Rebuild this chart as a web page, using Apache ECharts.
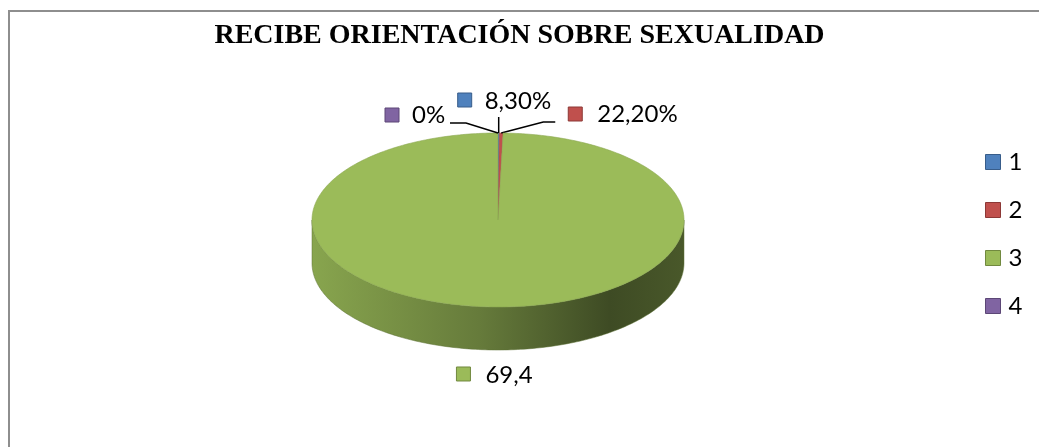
<!DOCTYPE html>
<html>
<head>
<meta charset="utf-8">
<script src="https://cdn.jsdelivr.net/npm/echarts@6/dist/echarts.min.js"></script>
<style>
html, body { margin: 0; padding: 0; background: #fff; }
#pieChart { width: 1039px; height: 447px; }
</style>
</head>
<body>
<div id="pieChart"></div>
<script>
var categories = ['1', '2', '3', '4'];
var values = [0.083, 0.222, 69.4, 0];
var labelTexts = ['8,30%', '22,20%', '69,4', '0%'];
var colors = ['#4f81bd', '#c0504d', '#9bbb59', '#8064a2'];
var borderColors = ['#385d8a', '#8c3836', '#71893f', '#5c4776'];

var total = values.reduce(function (a, b) { return a + b; }, 0);

// 3d pie look (Excel style): top ellipse + front band
var pie = { cx: 498, cy: 220, rx: 186, ry: 87, depth: 43 };

// label placement, offsets from the rim point at the middle of the slice
var labelPos = [
  { key: [-41, -40], text: [-14, -32], leader: [[0, -16]] },
  { key: [67, -26], text: [96, -19], leader: [[54, -11], [42, -11]] },
  { key: [-39, 60], text: [-10, 68], leader: null },
  { key: [-113, -25], text: [-86, -18], leader: [[-48, -10], [-32, -10]] }
];

function shade(color, f) {
  var c = echarts.color.parse(color);
  return 'rgb(' + Math.round(c[0] * f) + ',' + Math.round(c[1] * f) + ',' + Math.round(c[2] * f) + ')';
}

function rim(theta, dy) {
  return [pie.cx + pie.rx * Math.sin(theta), pie.cy - pie.ry * Math.cos(theta) + (dy || 0)];
}

function arc(a0, a1, dy) {
  var pts = [];
  var n = Math.max(2, Math.ceil((a1 - a0) / (Math.PI / 180)) + 1);
  for (var k = 0; k < n; k++) {
    pts.push(rim(a0 + (a1 - a0) * k / (n - 1), dy));
  }
  return pts;
}

function renderSlice(i) {
  return function (params, api) {
    var before = 0;
    for (var j = 0; j < i; j++) before += values[j];
    var a0 = before / total * Math.PI * 2;
    var a1 = (before + values[i]) / total * Math.PI * 2;
    var c = colors[i];
    var children = [];

    // front band, only the part facing us
    var s0 = Math.max(a0, Math.PI / 2), s1 = Math.min(a1, Math.PI * 1.5);
    if (s1 > s0) {
      var topEdge = arc(s0, s1, 0);
      var bottomEdge = arc(s0, s1, pie.depth).reverse();
      children.push({
        type: 'polygon',
        shape: { points: topEdge.concat(bottomEdge) },
        style: {
          fill: new echarts.graphic.LinearGradient(pie.cx - pie.rx, 0, pie.cx + pie.rx, 0, [
            { offset: 0, color: shade(c, 0.88) },
            { offset: 0.45, color: shade(c, 0.66) },
            { offset: 0.8, color: shade(c, 0.4) },
            { offset: 1, color: shade(c, 0.47) }
          ], true),
          stroke: shade(c, 0.6),
          lineWidth: 0.5
        }
      });
    }

    // top face
    if (a1 > a0) {
      children.push({
        type: 'polygon',
        shape: { points: [[pie.cx, pie.cy]].concat(arc(a0, a1, 0)) },
        style: { fill: c, stroke: shade(c, 0.9), lineWidth: 0.6 }
      });
    }

    // data label with legend key
    var A = rim((a0 + a1) / 2, 0);
    var L = labelPos[i];
    if (L.leader) {
      var pts = L.leader.map(function (p) { return [A[0] + p[0], A[1] + p[1]]; });
      pts.push(A);
      children.push({
        type: 'polyline',
        shape: { points: pts },
        style: { stroke: '#000', lineWidth: 1.5, fill: null }
      });
    }
    children.push({
      type: 'rect',
      shape: { x: A[0] + L.key[0], y: A[1] + L.key[1], width: 14, height: 14 },
      style: { fill: c, stroke: borderColors[i], lineWidth: 1 }
    });
    children.push({
      type: 'text',
      x: A[0] + L.text[0],
      y: A[1] + L.text[1],
      style: {
        text: labelTexts[i],
        font: '24px Lato',
        fill: '#000',
        align: 'left',
        verticalAlign: 'middle'
      }
    });

    return { type: 'group', children: children };
  };
}

var dom = document.getElementById('pieChart');
var chart = echarts.init(dom);

chart.setOption({
  animation: false,
  title: {
    text: 'RECIBE ORIENTACIÓN SOBRE SEXUALIDAD',
    left: 'center',
    top: 22,
    padding: 0,
    textStyle: { fontFamily: 'Liberation Serif', fontWeight: 'bold', fontSize: 28, color: '#000' }
  },
  legend: {
    orient: 'vertical',
    left: 985,
    top: 150,
    padding: 0,
    itemWidth: 15,
    itemHeight: 15,
    itemGap: 24,
    icon: 'rect',
    selectedMode: false,
    textStyle: { fontFamily: 'Lato', fontSize: 24, color: '#000', padding: [0, 0, 0, 3] },
    data: categories.map(function (name, i) {
      return { name: name, itemStyle: { color: colors[i], borderColor: borderColors[i], borderWidth: 1 } };
    })
  },
  graphic: [{
    type: 'rect',
    silent: true,
    shape: { x: 9, y: 11, width: 1100, height: 500 },
    style: { fill: 'none', stroke: '#8e8e8e', lineWidth: 2 }
  }],
  series: categories.map(function (name, i) {
    return {
      type: 'custom',
      name: name,
      coordinateSystem: 'none',
      silent: true,
      itemStyle: { color: colors[i] },
      data: [[i]],
      renderItem: renderSlice(i)
    };
  })
});
</script>
</body>
</html>
